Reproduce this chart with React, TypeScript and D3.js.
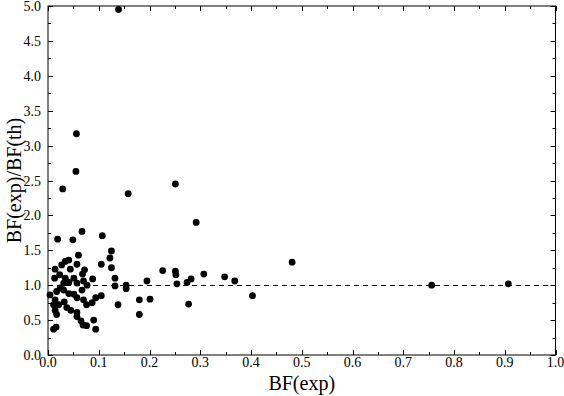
import * as d3 from "d3";
import * as React from "react";

// BF(exp) vs BF(exp)/BF(th)
const bfExp = [
  0.139, 0.056, 0.055, 0.029, 0.158, 0.251, 0.292, 0.019, 0.049, 0.067,
  0.107, 0.06, 0.041, 0.034, 0.027, 0.014, 0.044, 0.057, 0.072, 0.068,
  0.023, 0.013, 0.034, 0.051, 0.088, 0.105, 0.031, 0.041, 0.057, 0.07,
  0.077, 0.024, 0.017, 0.004, 0.031, 0.041, 0.051, 0.057, 0.067, 0.07,
  0.014, 0.011, 0.021, 0.032, 0.037, 0.014, 0.017, 0.045, 0.057, 0.076,
  0.094, 0.105, 0.087, 0.057, 0.065, 0.076, 0.09, 0.094, 0.069, 0.016,
  0.011, 0.125, 0.122, 0.125, 0.132, 0.132, 0.154, 0.154, 0.195, 0.201,
  0.18, 0.18, 0.138, 0.226, 0.251, 0.252, 0.307, 0.348, 0.368, 0.254,
  0.274, 0.282, 0.277, 0.481, 0.403, 0.756, 0.907,
];
const bfRatio = [
  4.95, 3.17, 2.63, 2.38, 2.31, 2.45, 1.9, 1.66, 1.65, 1.77,
  1.71, 1.43, 1.36, 1.34, 1.29, 1.23, 1.23, 1.3, 1.22, 1.16,
  1.15, 1.1, 1.1, 1.1, 1.09, 1.3, 1.03, 1.04, 1.03, 1.06,
  1.0, 0.96, 0.91, 0.86, 0.93, 0.88, 0.87, 0.82, 0.93, 0.79,
  0.79, 0.72, 0.72, 0.76, 0.68, 0.64, 0.58, 0.64, 0.61, 0.72,
  0.82, 0.85, 0.75, 0.55, 0.49, 0.42, 0.5, 0.37, 0.43, 0.4,
  0.37, 1.49, 1.39, 1.25, 1.1, 0.99, 1.0, 0.95, 1.06, 0.8,
  0.79, 0.58, 0.72, 1.21, 1.2, 1.15, 1.16, 1.12, 1.06, 1.02,
  1.04, 1.09, 0.73, 1.33, 0.85, 1.0, 1.02,
];
const xTicks = [0, 0.1, 0.2, 0.3, 0.4, 0.5, 0.6, 0.7, 0.8, 0.9, 1.0];
const yTicks = [0, 0.5, 1.0, 1.5, 2.0, 2.5, 3.0, 3.5, 4.0, 4.5, 5.0];
const refLevel = 1.0;

export default function App() {
  const ref = React.useRef<SVGSVGElement>(null);

  React.useEffect(() => {
    const width = 564;
    const height = 396;
    const margin = { top: 6, right: 8.5, bottom: 41, left: 48 };
    const font = "'Liberation Serif', 'Times New Roman', serif";

    const x = d3
      .scaleLinear()
      .domain([0, 1])
      .range([margin.left, width - margin.right]);
    const y = d3
      .scaleLinear()
      .domain([0, 5])
      .range([height - margin.bottom, margin.top]);

    const svg = d3.select(ref.current);
    svg.selectAll("*").remove();

    const [x0, x1] = x.range();
    const [y0, y1] = y.range();

    // inward ticks on all four sides, minor ones halfway
    const g = svg.append("g").attr("stroke", "#000").attr("stroke-width", 1);
    const xMinor = d3.range(0.05, 1, 0.1);
    const yMinor = d3.range(0.25, 5, 0.5);
    const tick = (vals: number[], len: number) => {
      vals.forEach((v) => {
        const px = Math.round(x(v)) + 0.5;
        g.append("line").attr("x1", px).attr("x2", px).attr("y1", y0).attr("y2", y0 - len);
        g.append("line").attr("x1", px).attr("x2", px).attr("y1", y1).attr("y2", y1 + len);
      });
    };
    const tickY = (vals: number[], len: number) => {
      vals.forEach((v) => {
        const py = Math.round(y(v)) + 0.5;
        g.append("line").attr("y1", py).attr("y2", py).attr("x1", x0).attr("x2", x0 + len);
        g.append("line").attr("y1", py).attr("y2", py).attr("x1", x1).attr("x2", x1 - len);
      });
    };
    tick(xTicks, 5);
    tick(xMinor, 3);
    tickY(yTicks, 5);
    tickY(yMinor, 3);

    svg
      .append("rect")
      .attr("x", x0)
      .attr("y", y1)
      .attr("width", x1 - x0)
      .attr("height", y0 - y1)
      .attr("fill", "none")
      .attr("stroke", "#000")
      .attr("stroke-width", 1);

    svg
      .append("line")
      .attr("x1", x0)
      .attr("x2", x1)
      .attr("y1", Math.round(y(refLevel)) + 0.5)
      .attr("y2", Math.round(y(refLevel)) + 0.5)
      .attr("stroke", "#000")
      .attr("stroke-width", 1)
      .attr("stroke-dasharray", "5,4");

    svg
      .append("g")
      .selectAll("text")
      .data(xTicks)
      .join("text")
      .attr("x", (d) => x(d))
      .attr("y", 367)
      .attr("text-anchor", "middle")
      .attr("font-family", font)
      .attr("font-size", 14)
      .text((d) => d.toFixed(1));

    svg
      .append("g")
      .selectAll("text")
      .data(yTicks)
      .join("text")
      .attr("x", 41)
      .attr("y", (d) => y(d) + 5)
      .attr("text-anchor", "end")
      .attr("font-family", font)
      .attr("font-size", 14)
      .text((d) => d.toFixed(1));

    svg
      .append("text")
      .attr("x", (x0 + x1) / 2)
      .attr("y", 390)
      .attr("text-anchor", "middle")
      .attr("font-family", font)
      .attr("font-size", 20)
      .text("BF(exp)");

    svg
      .append("text")
      .attr("transform", `translate(21,${(y0 + y1) / 2}) rotate(-90)`)
      .attr("text-anchor", "middle")
      .attr("font-family", font)
      .attr("font-size", 20)
      .text("BF(exp)/BF(th)");

    svg
      .append("g")
      .selectAll("circle")
      .data(d3.range(bfExp.length))
      .join("circle")
      .attr("cx", (i) => x(bfExp[i]))
      .attr("cy", (i) => y(bfRatio[i]))
      .attr("r", 3.4)
      .attr("fill", "#000");
  }, []);

  return (
    <svg
      ref={ref}
      width={564}
      height={396}
      style={{ position: "absolute", left: 0, top: 0, background: "#fff" }}
    />
  );
}
